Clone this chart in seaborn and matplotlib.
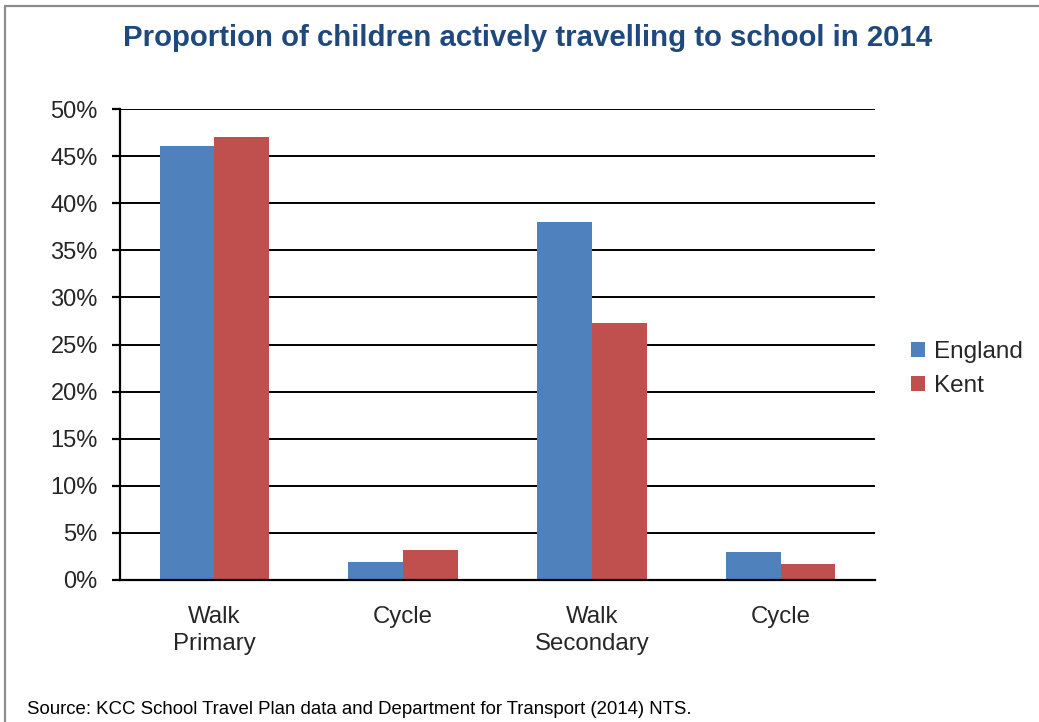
import seaborn as sns
import matplotlib.pyplot as plt
import pandas as pd
from matplotlib.lines import Line2D
from matplotlib.ticker import FuncFormatter

# Values (percent of children)
groups = ['Walk Primary', 'Cycle Primary', 'Walk Secondary', 'Cycle Secondary']
group_labels = ['Walk\nPrimary', 'Cycle', 'Walk\nSecondary', 'Cycle']
england = [46.1, 1.9, 38.0, 3.0]
kent = [47.0, 3.2, 27.3, 1.7]
series = ['England', 'Kent']
colors = ['#4F81BD', '#C0504D']

df = pd.DataFrame({
    'group': groups * 2,
    'area': ['England'] * len(groups) + ['Kent'] * len(groups),
    'value': england + kent,
})

sns.set_style('white')
plt.rcParams['font.family'] = ['Liberation Sans', 'DejaVu Sans']

fig = plt.figure(figsize=(10.39, 7.22), dpi=100)
ax = fig.add_axes([0.1155, 0.1967, 0.7267, 0.6523])

sns.barplot(data=df, x='group', y='value', hue='area', order=groups,
            hue_order=series, palette=colors, width=0.58, saturation=1,
            linewidth=0, ax=ax)

# axes styling
ax.set_ylim(0, 50)
ax.set_xlim(-0.5, len(groups) - 0.5)
ax.set_yticks(range(0, 51, 5))
ax.yaxis.set_major_formatter(FuncFormatter(lambda v, p: f'{v:.0f}%'))
ax.yaxis.grid(True, color='black', linewidth=1.4)
ax.set_axisbelow(True)
ax.set_xlabel('')
ax.set_ylabel('')
for s in ['top', 'right']:
    ax.spines[s].set_visible(False)
for s in ['left', 'bottom']:
    ax.spines[s].set_color('black')
    ax.spines[s].set_linewidth(1.6)

ax.set_xticks(range(len(groups)))
ax.set_xticklabels(group_labels, fontsize=17.3, linespacing=1.25)
ax.set_xticks([i - 0.5 for i in range(len(groups) + 1)], minor=True)
ax.tick_params(axis='x', which='major', length=0, pad=19)
ax.tick_params(axis='x', which='minor', direction='out', length=6, width=1.6, color='black')
ax.tick_params(axis='y', direction='out', length=6, width=1.6, color='black',
               labelsize=17, pad=10, left=True)

# legend on the right
handles, labels = ax.get_legend_handles_labels()
ax.legend(handles, labels, loc='upper left', bbox_to_anchor=(0.867, 0.541),
          bbox_transform=fig.transFigure, frameon=False, fontsize=17.5,
          handlelength=0.6, handleheight=0.6, handletextpad=0.35,
          labelspacing=0.5, borderaxespad=0)

fig.text(0.508, 0.948, 'Proportion of children actively travelling to school in 2014',
         ha='center', va='center', fontsize=21.2, fontweight='bold', color='#1F497D')
fig.text(0.026, 0.011, 'Source: KCC School Travel Plan data and Department for Transport (2014) NTS.',
         ha='left', va='baseline', fontsize=13.4, color='black')

# grey outer frame (top and left edges visible)
fig.add_artist(Line2D([5 / 1039, 5 / 1039], [0, 1 - 6 / 722], color='#8c8c8c',
                      linewidth=1.6, transform=fig.transFigure))
fig.add_artist(Line2D([5 / 1039, 1], [1 - 6 / 722, 1 - 6 / 722], color='#8c8c8c',
                      linewidth=1.6, transform=fig.transFigure))

plt.savefig('out.png', dpi=100)
plt.close()
